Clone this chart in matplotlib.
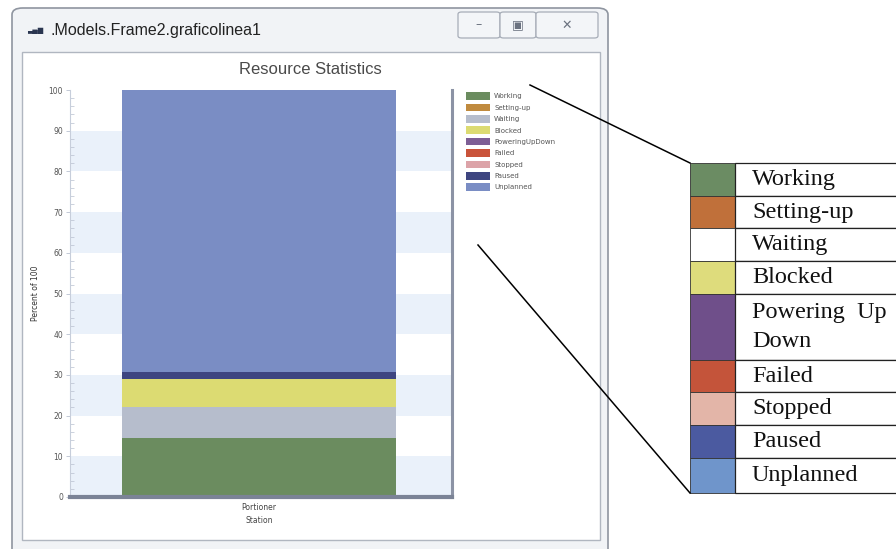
import matplotlib.pyplot as plt
from matplotlib.patches import FancyBboxPatch, Rectangle
from matplotlib.lines import Line2D

W, H = 896, 549

# data (percent of 100)
station = ["Portioner\nStation"]
states = ["Working", "Setting-up", "Waiting", "Blocked", "PoweringUpDown",
          "Failed", "Stopped", "Paused", "Unplanned"]
values = [14.6, 0.0, 7.4, 6.9, 0.0, 0.0, 0.0, 1.8, 69.3]
colors = ["#6b8c5f", "#c08a3e", "#b6bdcc", "#dcdb72", "#7d5e95",
          "#c9533a", "#dca3a8", "#3e4580", "#7a8dc4"]

# the enlarged legend on the right
big_labels = ["Working", "Setting-up", "Waiting", "Blocked", "Powering  Up\nDown",
              "Failed", "Stopped", "Paused", "Unplanned"]
big_colors = ["#6b8c63", "#c0703a", "#ffffff", "#dedc7c", "#6f4f8a",
              "#c4543a", "#e3b5a8", "#4b5aa0", "#6f95cb"]
big_rows = [163, 196, 228, 261, 294, 360, 392, 425, 458, 493]


def fx(x):
    return x / W


def fy(y):
    return 1 - y / H


fig = plt.figure(figsize=(W / 100, H / 100), dpi=100)
fig.patch.set_facecolor("white")

# window frame
win = FancyBboxPatch((fx(12), fy(560)), fx(596), fy(8) - fy(560),
                     boxstyle="round,pad=0,rounding_size=0.012",
                     transform=fig.transFigure, facecolor="#f1f3f6",
                     edgecolor="#8f95a0", linewidth=1.2)
fig.patches.append(win)
panel = Rectangle((fx(22), fy(540)), fx(578), fy(52) - fy(540),
                  transform=fig.transFigure, facecolor="white",
                  edgecolor="#b0b6c0", linewidth=1.0)
fig.patches.append(panel)

fig.text(fx(27), fy(31), "\u2583\u2585\u2587", fontsize=5, color="#2a3550",
         va="center", family="DejaVu Sans")
fig.text(fx(50), fy(30), ".Models.Frame2.graficolinea1", fontsize=11.5,
         color="#222222", va="center", family="Liberation Sans")

# caption buttons
for x0, x1, sym in [(458, 500, "\u2013"), (500, 536, "\u25a3"), (536, 598, "\u2715")]:
    b = FancyBboxPatch((fx(x0), fy(38)), fx(x1 - x0), fy(12) - fy(38),
                       boxstyle="round,pad=0,rounding_size=0.004",
                       transform=fig.transFigure, facecolor="#f3f5f8",
                       edgecolor="#a7adb8", linewidth=0.9)
    fig.patches.append(b)
    fig.text(fx((x0 + x1) / 2), fy(25), sym, fontsize=9, color="#6b7280",
             ha="center", va="center")

fig.text(fx(310), fy(69), "Resource Statistics", fontsize=12,
         color="#4a4a4a", ha="center", va="center", family="Liberation Sans")

# chart axes
ax = fig.add_axes([fx(70), fy(497), fx(452 - 70), fy(90) - fy(497)])
ax.set_zorder(5)
ax.set_xlim(-0.495, 0.505)
ax.set_ylim(0, 100)
ax.set_facecolor("white")
for lo in range(0, 100, 20):
    ax.axhspan(lo, lo + 10, color="#eaf1fa", zorder=0, linewidth=0)

bottom = 0.0
for name, v, c in zip(states, values, colors):
    ax.bar(0, v, width=0.717, bottom=bottom, color=c, label=name, zorder=2,
           linewidth=0)
    bottom += v

ax.set_xticks([0])
ax.set_xticklabels(station, fontsize=5.5, color="#444444", linespacing=1.6)
ax.set_yticks(range(0, 101, 10))
ax.set_yticks(range(0, 101, 2), minor=True)
ax.tick_params(axis="y", labelsize=5.5, labelcolor="#555555", color="#b8c0d0",
               length=3, width=0.6, pad=2)
ax.tick_params(axis="y", which="minor", direction="in", length=3,
               color="#b8c0d0", width=0.5)
ax.tick_params(axis="x", length=0, pad=4)
ax.set_ylabel("Percent of 100", fontsize=5.5, color="#333333", labelpad=6)
ax.spines["top"].set_visible(False)
ax.spines["left"].set_color("#c7cedb")
ax.spines["left"].set_linewidth(0.8)
ax.spines["right"].set_color("#8c93a5")
ax.spines["right"].set_linewidth(2.2)
ax.spines["bottom"].set_color("#7b8396")
ax.spines["bottom"].set_linewidth(3)

ax.legend(loc="upper left", bbox_to_anchor=(fx(460), fy(86)),
          bbox_transform=fig.transFigure, frameon=False, fontsize=5,
          handlelength=3.4, handleheight=1.3, labelspacing=0.55,
          handletextpad=0.6, labelcolor="#555555")

# enlarged legend table
for i, (lab, c) in enumerate(zip(big_labels, big_colors)):
    y0, y1 = big_rows[i], big_rows[i + 1]
    fig.patches.append(Rectangle((fx(690), fy(y1)), fx(45), fy(y0) - fy(y1),
                                 transform=fig.transFigure, facecolor=c,
                                 edgecolor="#333333", linewidth=0.6))
    fig.patches.append(Rectangle((fx(735), fy(y1)), fx(170), fy(y0) - fy(y1),
                                 transform=fig.transFigure, facecolor="white",
                                 edgecolor="#222222", linewidth=0.9))
    fig.text(fx(752), fy((y0 + y1) / 2), lab, fontsize=17.5, color="#111111",
             va="center", family="Liberation Serif", linespacing=1.45)

fig.lines.append(Line2D([fx(530), fx(690)], [fy(85), fy(163)],
                        transform=fig.transFigure, color="black", linewidth=1.1))
fig.lines.append(Line2D([fx(478), fx(690)], [fy(245), fy(493)],
                        transform=fig.transFigure, color="black", linewidth=1.1))

fig.savefig("out.png", dpi=100)
